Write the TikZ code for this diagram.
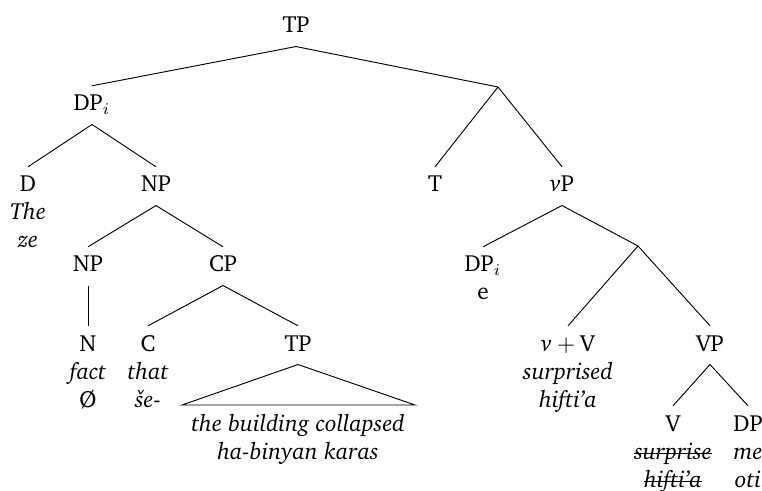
\documentclass[tikz,border=0pt]{standalone}
\usepackage[T1]{fontenc}
\usepackage{charter}
\begin{document}
\begin{tikzpicture}[x=0.42857pt,y=-0.42857pt,
  cat/.style={anchor=base,inner xsep=1pt,inner ysep=3.9pt,text height=6.7pt,text depth=1.7pt,font=\fontsize{10}{12}\selectfont},
  lex/.style={anchor=base,inner sep=0pt,font=\fontsize{10}{12}\selectfont\itshape},
  edge/.style={draw=black,line width=0.4pt},
  strikeline/.style={draw=black,line width=0.4pt}]
\useasboundingbox (0,0) rectangle (762,491);
% categories
\node[cat] (TP) at (296,33) {TP};
\node[cat] (DPi) at (92,111) {DP$_i$};
\coordinate (Tbar) at (498,87);
\node[cat] (D) at (28,192) {D};
\node[lex] (The) at (28,220) {The};
\node[lex] (ze) at (28,248) {ze};
\node[cat] (NP) at (156,192) {NP};
\node[cat] (NPb) at (88,272) {NP};
\node[cat] (CP) at (223,272) {CP};
\node[cat] (N) at (88,351) {N};
\node[lex] (fact) at (88,379) {fact};
\node[cat] (null) at (88,407) {\O};
\node[cat] (C) at (148,351) {C};
\node[lex] (that) at (148,379) {that};
\node[lex] (she) at (148,407) {\v{s}e-};
\node[cat] (TPb) at (298,351) {TP};
\coordinate (triL) at (182,405);
\coordinate (triR) at (415,405);
\node[lex] (bld) at (298,431) {the building collapsed};
\node[lex] (hab) at (298,459) {ha-binyan karas};
\node[cat] (T) at (435,192) {T};
\node[cat] (vP) at (562,192) {\textit{v}P};
\node[cat] (DPr) at (483,272) {DP$_i$};
\node[cat] (e) at (483,300) {e};
\coordinate (vbar) at (638,246);
\node[cat] (vV) at (568,351) {\textit{v}${}+{}$V};
\node[lex] (surd) at (568,379) {surprised};
\node[lex] (hif) at (568,407) {hifti'a};
\node[cat] (VP) at (710,351) {VP};
\node[cat] (V) at (673,431) {V};
\node[lex] (sur) at (673,459) {surprise};
\node[lex] (hifs) at (673,487) {hifti'a};
\node[cat] (DPo) at (748,431) {DP};
\node[lex] (me) at (748,459) {me};
\node[lex] (oti) at (748,487) {oti};
% strike-throughs
\draw[strikeline] ([yshift=2.3pt]sur.base west) -- ([yshift=2.3pt]sur.base east);
\draw[strikeline] ([yshift=2.3pt]hifs.base west) -- ([yshift=2.3pt]hifs.base east);
% edges
\draw[edge] (TP.south) -- (DPi.north);
\draw[edge] (TP.south) -- (Tbar);
\draw[edge] (DPi.south) -- (D.north);
\draw[edge] (DPi.south) -- (NP.north);
\draw[edge] (NP.south) -- (NPb.north);
\draw[edge] (NP.south) -- (CP.north);
\draw[edge] (NPb.south) -- (N.north);
\draw[edge] (CP.south) -- (C.north);
\draw[edge] (CP.south) -- (TPb.north);
\draw[edge] (TPb.south) -- (triL) -- (triR) -- cycle;
\draw[edge] (Tbar) -- (T.north);
\draw[edge] (Tbar) -- (vP.north);
\draw[edge] (vP.south) -- (DPr.north);
\draw[edge] (vP.south) -- (vbar);
\draw[edge] (vbar) -- (vV.north);
\draw[edge] (vbar) -- (VP.north);
\draw[edge] (VP.south) -- (V.north);
\draw[edge] (VP.south) -- (DPo.north);
\end{tikzpicture}
\end{document}
